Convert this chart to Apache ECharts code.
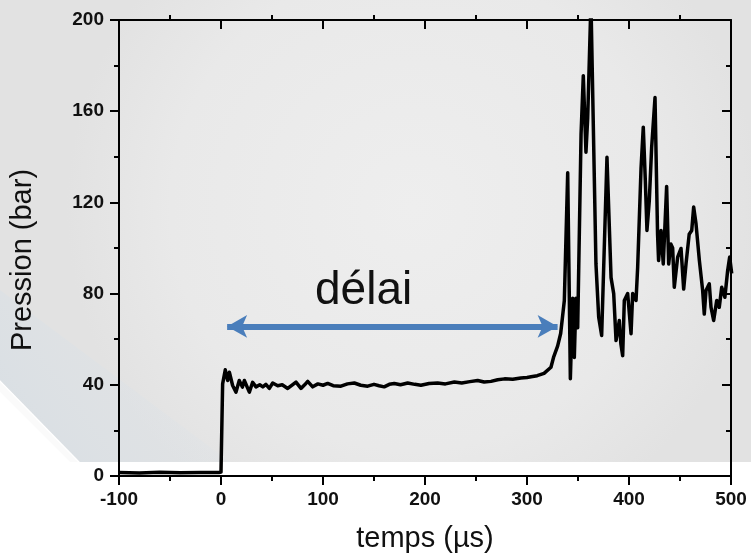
<!DOCTYPE html>
<html><head><meta charset="utf-8">
<script src="https://cdn.jsdelivr.net/npm/echarts@6/dist/echarts.min.js"></script>
<style>html,body{margin:0;padding:0;background:#fff}#c{width:751px;height:560px}</style>
</head><body><div id="c"></div>
<script>
// time (µs) and pressure (bar)
const times = [-100,-80,-60,-40,-20,-2,0,1.6,4.2,6.5,8.2,11.4,14.7,17.9,21,22.9,27.8,31,34.3,38,41,44,47.4,50.7,55.6,60,65.4,70,73.5,78.4,82,85,89.9,95,100,104.6,110,117.6,124,130.7,137,143.8,150,155,160,165,169.9,176,183,190,196,204,212.4,220,228.8,236,244,251.6,258,264.7,271.2,278,286,294,300,304,310,316.7,323.5,326,330,333,336.6,339.9,341.5,342.5,344.8,346.4,348,349.7,353,355.2,357.8,359.5,362.7,367.6,370.3,373.2,378.4,382.4,385,387.3,390.5,392,393.8,395.4,398.7,402,403.6,406.9,408.5,411.8,414,416,417.6,419.9,422.2,425.5,428,429,431.4,433.6,436.9,438.9,441,442.8,444.4,447.7,451,453.6,455.9,459,461.5,463.4,465.7,469,472.2,473.8,475.5,478.7,480.4,483,486,488.5,490.9,494,496.7,498.7,500.7];
const pressure = [1.5,1.3,1.6,1.4,1.5,1.5,1.7,40.4,46.6,41.9,45.5,39.7,36.8,41.9,39,41.9,36.8,41.1,39.1,40,39.1,40.2,38.4,40.8,39.6,40,38.4,40,41.2,38.4,40,41.5,39.1,40.4,39.8,40.6,39.6,39.4,40.4,40.8,39.8,39.4,40.2,39.6,39.1,40.2,40.6,40,40.8,40.2,39.8,40.6,40.8,40.4,41.2,40.8,41.4,41.9,41.2,41.5,42.2,42.6,42.4,43,43.2,43.5,44,45,47.7,52,57,62.5,77,133,78,42.7,78,52,78,65,150,175.6,142,157,208,93,69.6,61.6,139.8,87,80,59.4,68.2,58,52.8,77,80,62.4,80,77,91.6,135,153,129.6,107.7,120.8,144,166,106,94.5,107.7,93,127,93,101.8,100,82.8,96,99.8,82,93,106,107.7,118,110.6,94.5,81.4,71,81.4,84.3,74,68.2,77,74,82.8,78.4,90,96,88.8];
const xTicks = [-100,0,100,200,300,400,500];
const yTicks = [0,40,80,120,160,200];
// annotation: double arrow (délai) and partial arrow at right edge
const delayArrow = [[6,65.6],[330,65.6]];
const edgeArrow = [[500.5,121.7],[522,121.7]];

const data = times.map((t,i)=>[t,pressure[i]]);
const F = 'Liberation Sans, Arial, sans-serif';
const chart = echarts.init(document.getElementById('c'));
const lbl = {fontFamily:F,fontWeight:'bold',fontSize:19,color:'#111'};
chart.setOption({
  animation:false,
  backgroundColor:'#ffffff',
  grid:{left:119,right:20,top:20,bottom:84,containLabel:false,outerBoundsMode:'none'},
  graphic:[
    {type:'polygon',z:-100,silent:true,shape:{points:[[0,0],[751,0],[751,462],[80,462],[0,380]]},
     style:{fill:new echarts.graphic.RadialGradient(0.55,0.45,0.75,[{offset:0,color:'#eeeeee'},{offset:0.7,color:'#e9e9e9'},{offset:1,color:'#e2e2e2'}])}},
    {type:'polygon',z:-99,silent:true,shape:{points:[[0,380],[80,462],[230,462],[0,290]]},
     style:{fill:new echarts.graphic.LinearGradient(0,1,1,0,[{offset:0,color:'rgba(210,220,228,0.7)'},{offset:1,color:'rgba(225,230,235,0)'}])}},
    {type:'polygon',z:-98,silent:true,shape:{points:[[0,382],[78,462],[70,462],[0,392]]},
     style:{fill:'rgba(250,250,250,0.9)'}},
    {type:'text',z:100,x:315,y:291,style:{text:'délai',font:'46px '+F,fill:'#111',align:'left',verticalAlign:'middle'}},
    {type:'text',z:100,x:23,y:260,rotation:Math.PI/2,style:{text:'Pression (bar)',font:'29px '+F,fill:'#111',align:'center',verticalAlign:'middle'}}
  ],
  xAxis:[
    {type:'value',position:'bottom',min:-100,max:500,interval:100,
     axisLine:{show:true,onZero:false,lineStyle:{color:'#000',width:2}},
     axisTick:{show:true,inside:false,length:9,lineStyle:{color:'#000',width:2}},
     minorTick:{show:true,splitNumber:2,length:5,lineStyle:{color:'#000',width:2}},
     splitLine:{show:false},
     axisLabel:Object.assign({margin:14,formatter:v=>xTicks.includes(v)?String(v):''},lbl),
     name:'temps (µs)',nameLocation:'middle',nameGap:48,
     nameTextStyle:{fontFamily:F,fontSize:29,color:'#111'}},
    {type:'value',position:'top',min:-100,max:500,interval:100,
     axisLine:{show:true,onZero:false,lineStyle:{color:'#000',width:2}},
     axisTick:{show:true,inside:true,length:9,lineStyle:{color:'#000',width:2}},
     splitLine:{show:false},axisLabel:{show:false}},
    {type:'value',position:'top',min:-100,max:500,interval:100,
     axisLine:{show:false,onZero:false},
     axisTick:{show:false},
     minorTick:{show:true,splitNumber:2,length:5,lineStyle:{color:'#000',width:2}},
     splitLine:{show:false},axisLabel:{show:false}}
  ],
  yAxis:[
    {type:'value',position:'left',min:0,max:200,interval:40,
     axisLine:{show:true,onZero:false,lineStyle:{color:'#000',width:2}},
     axisTick:{show:true,inside:false,length:9,lineStyle:{color:'#000',width:2}},
     minorTick:{show:true,splitNumber:2,length:5,lineStyle:{color:'#000',width:2}},
     splitLine:{show:false},
     axisLabel:Object.assign({margin:15,formatter:v=>yTicks.includes(v)?String(v):''},lbl)},
    {type:'value',position:'right',min:0,max:200,interval:40,
     axisLine:{show:true,onZero:false,lineStyle:{color:'#000',width:2}},
     axisTick:{show:true,inside:true,length:9,lineStyle:{color:'#000',width:2}},
     minorTick:{show:true,splitNumber:2,length:5,lineStyle:{color:'#000',width:2}},
     splitLine:{show:false},axisLabel:{show:false}}
  ],
  series:[
    {type:'line',data:data,xAxisIndex:0,yAxisIndex:0,showSymbol:false,symbol:'none',clip:true,
     lineStyle:{color:'#000',width:3.5,join:'round'},z:5},
    {type:'line',data:[],xAxisIndex:0,yAxisIndex:0,clip:false,silent:true,
     markLine:{silent:true,animation:false,label:{show:false},
       data:[
         [{coord:delayArrow[0],symbol:'arrow',symbolSize:[17,20]},{coord:delayArrow[1],symbol:'arrow',symbolSize:[17,20]}],
         [{coord:edgeArrow[0],symbol:'none'},{coord:edgeArrow[1],symbol:'none'}]
       ],
       lineStyle:{color:'#4a7ebb',width:6,type:'solid'}},z:6}
  ]
});
</script></body></html>
